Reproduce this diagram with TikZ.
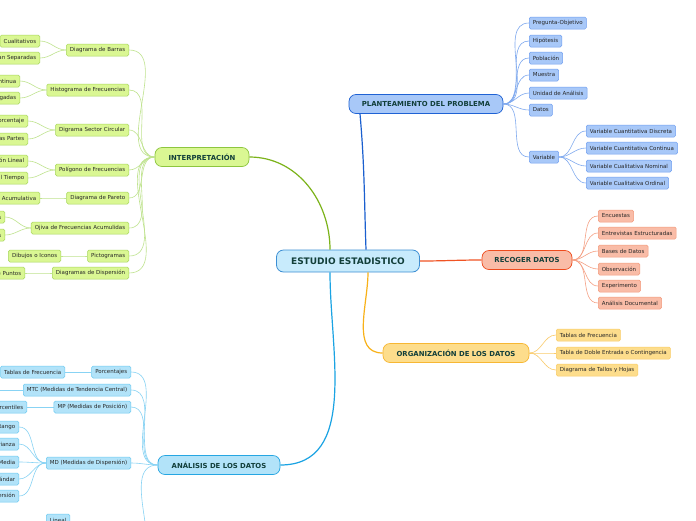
\documentclass[tikz,border=0pt]{standalone}
\usepackage{fontspec}
\setmainfont{DejaVu Sans}
\usetikzlibrary{positioning}
% colours of the five branches
\definecolor{ink}{HTML}{123F3A}
\definecolor{rootbg}{HTML}{C8EBFC}\definecolor{rootln}{HTML}{3D8FD4}
\definecolor{blubg}{HTML}{A8C8F8}\definecolor{bluln}{HTML}{1F62D4}\definecolor{blusl}{HTML}{6F9EF0}\definecolor{bluma}{HTML}{1A5FCF}\definecolor{blued}{HTML}{7FA9EF}
\definecolor{redbg}{HTML}{F9BCA7}\definecolor{redln}{HTML}{EE4B1D}\definecolor{redsl}{HTML}{F39A7C}\definecolor{redma}{HTML}{F05424}\definecolor{reded}{HTML}{F5A084}
\definecolor{orabg}{HTML}{FDDD8C}\definecolor{oraln}{HTML}{F7B733}\definecolor{orasl}{HTML}{F9CC66}\definecolor{orama}{HTML}{F8B118}\definecolor{oraed}{HTML}{FACB6A}
\definecolor{cyabg}{HTML}{B2E3F9}\definecolor{cyaln}{HTML}{26A6E2}\definecolor{cyasl}{HTML}{6CCAF1}\definecolor{cyama}{HTML}{1AA3E3}\definecolor{cyaed}{HTML}{88D3F4}
\definecolor{grnbg}{HTML}{DAF793}\definecolor{grnln}{HTML}{8DC63E}\definecolor{grnsl}{HTML}{A7D65C}\definecolor{grnma}{HTML}{7CB31A}\definecolor{grned}{HTML}{BFE38E}
\tikzset{
  root/.style ={draw=rootln, fill=rootbg, rounded corners=7pt, line width=0.8pt, minimum width=143pt,
                minimum height=22pt, font=\fontsize{9}{10}\selectfont\bfseries, text=ink},
  topic/.style={draw=#1ln, fill=#1bg, rounded corners=7pt, line width=0.7pt, minimum height=19pt,
                font=\fontsize{6.9}{7}\selectfont\bfseries, text=ink},
  sub/.style  ={draw=#1sl, fill=#1bg, rounded corners=1.5pt, line width=0.5pt, minimum height=12pt,
                inner xsep=3.6pt, inner ysep=0pt, font=\fontsize{5.5}{6}\selectfont, text=black!85},
  lk/.style   ={draw=#1ed, line width=0.6pt},
  mk/.style   ={draw=#1ma, line width=1.2pt}
}
\begin{document}
\begin{tikzpicture}[x=1pt,y=-1pt]
\useasboundingbox[fill=white] (0,0) rectangle (696,520);

% centre and main topics
\node[root] (est) at (348,261) {ESTUDIO ESTADISTICO};
\node[topic=blu, minimum width=154pt] (plan) at (426,104) {PLANTEAMIENTO DEL PROBLEMA};
\node[topic=red, minimum width=90pt]  (rec)  at (527,260) {RECOGER DATOS};
\node[topic=ora, minimum width=146pt] (org)  at (456,353) {ORGANIZACIÓN DE LOS DATOS};
\node[topic=cya, minimum width=122pt] (ana)  at (219,465) {ANÁLISIS DE LOS DATOS};
\node[topic=grn, minimum width=94pt]  (intp) at (202,157) {INTERPRETACIÓN};

\draw[mk=blu] (est.north -| 366,0) to[out=92,in=-85] (plan.south west -| 360,0);
\draw[mk=red] (est.east) to[out=0,in=180] (rec.west);
\draw[mk=ora] (est.south -| 368,0) to[out=-90,in=180] (org.west);
\draw[mk=cya] (est.south -| 330,0) to[out=-90,in=0] (ana.east);
\draw[mk=grn] (est.north -| 330,0) to[out=90,in=0] (intp.east);

% planteamiento del problema
\foreach \n/\y/\t in {pq/23/Pregunta-Objetivo, hip/41/Hipótesis, pob/58/Población, mue/75/Muestra,
                      uni/93/Unidad de Análisis, dat/110/Datos, var/157/Variable}{
  \node[sub=blu, anchor=west] (\n) at (529,\y) {\t};
  \draw[lk=blu] (plan.east) to[out=0,in=180] (\n.west);
}
\foreach \n/\y/\t in {vcd/131/Variable Cuantitativa Discreta, vcc/148/Variable Cuantitativa Continua,
                      vln/166/Variable Cualitativa Nominal, vlo/183/Variable Cualitativa Ordinal}{
  \node[sub=blu, anchor=west] (\n) at (586,\y) {\t};
  \draw[lk=blu] (var.east) to[out=0,in=180] (\n.west);
}

% recoger datos
\foreach \n/\y/\t in {enc/216/Encuestas, ent/233/Entrevistas Estructuradas, bas/251/Bases de Datos,
                      obs/269/Observación, exp/286/Experimento, doc/303/Análisis Documental}{
  \node[sub=red, anchor=west] (\n) at (598,\y) {\t};
  \draw[lk=red] (rec.east) to[out=0,in=180] (\n.west);
}

% organizacion de los datos
\foreach \n/\y/\t in {tfr/335/Tablas de Frecuencia, tde/353/Tabla de Doble Entrada o Contingencia,
                      tyh/370/Diagrama de Tallos y Hojas}{
  \node[sub=ora, anchor=west] (\n) at (556,\y) {\t};
  \draw[lk=ora] (org.east) to[out=0,in=180] (\n.west);
}

% analisis de los datos
\foreach \n/\y/\t in {por/372/Porcentajes, mtc/390/MTC (Medidas de Tendencia Central),
                      mp/407/MP (Medidas de Posición), md/463/MD (Medidas de Dispersión)}{
  \node[sub=cya, anchor=east] (\n) at (131,\y) {\t};
  \draw[lk=cya] (ana.west) to[out=180,in=0] (\n.east);
}
\coordinate (reg) at (131,570);
\draw[lk=cya] (ana.west) to[out=180,in=0] (reg);
\node[sub=cya, anchor=east] (tfa) at (65,372) {Tablas de Frecuencia};
\draw[lk=cya] (por.west) -- (tfa.east);
\coordinate (mtcx) at (-10,390);
\draw[lk=cya] (mtc.west) -- (mtcx);
\node[sub=cya, anchor=east] (pct) at (27,407) {Percentiles};
\draw[lk=cya] (mp.west) -- (pct.east);
\foreach \n/\y/\t in {ran/427/Rango, vza/444/Varianza, dme/462/Desviación Media,
                      des/479/Desviación Estándar, cdi/496/Coeficiente de Dispersión}{
  \node[sub=cya, anchor=east] (\n) at (19,\y) {\t};
  \draw[lk=cya] (md.west) to[out=180,in=0] (\n.east);
}
\node[sub=cya, anchor=west] (lin) at (46,520) {Lineal};

% interpretacion
\foreach \n/\y/\t in {bar/50/Diagrama de Barras, his/90/Histograma de Frecuencias,
                      sec/130/Digrama Sector Circular, pol/170/Polígono de Frecuencias,
                      par/198/Diagrama de Pareto, oji/228/Ojiva de Frecuencias Acumulidas,
                      pic/256/Pictogramas, dis/273/Diagramas de Dispersión}{
  \node[sub=grn, anchor=east] (\n) at (129,\y) {\t};
  \draw[lk=grn] (intp.west) to[out=180,in=0] (\n.east);
}
\foreach \p/\n/\x/\y/\t in {bar/bcu/40/41/Cualitativos, bar/bse/40/58/Barras se Muestran Separadas,
                            his/hco/20/81/Variable Continua, his/hpe/20/98/Barras Pegadas,
                            sec/spo/28/121/Porcentaje, sec/spa/28/139/Representa las Partes,
                            pol/plr/28/161/Representación Lineal, pol/ptm/28/178/Cambios con Relación al Tiempo,
                            par/pac/40/198/Frecuencia Acumulativa,
                            oji/oab/5/217/Frecuencias Absolutas, oji/ore/5/235/Frecuencias Relativas,
                            pic/pdi/61/256/Dibujos o Iconos, dis/dnp/25/273/Nube de Puntos}{
  \node[sub=grn, anchor=east] (\n) at (\x,\y) {\t};
  \draw[lk=grn] (\p.west) to[out=180,in=0] (\n.east);
}
\end{tikzpicture}
\end{document}
